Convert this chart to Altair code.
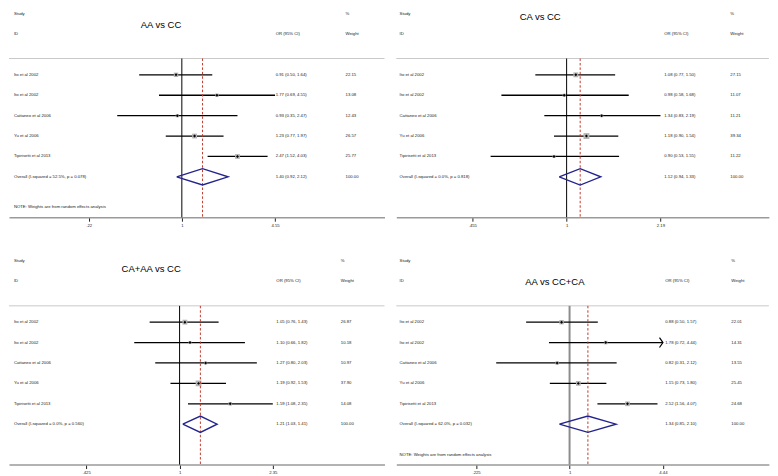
import math
import altair as alt
import pandas as pd

# ---------------- data ----------------
studies = ["Ito et al 2002", "Ito et al 2002", "Cattaneo et al 2006",
           "Yu et al 2006", "Tipirisetti et al 2013"]
titles = ["AA vs CC", "CA vs CC", "CA+AA vs CC", "AA vs CC+CA"]

or_est = [[0.91, 1.77, 0.93, 1.23, 2.47],
          [1.08, 0.98, 1.34, 1.18, 0.90],
          [1.05, 1.10, 1.27, 1.19, 1.59],
          [0.88, 1.78, 0.82, 1.15, 2.52]]
ci_lo = [[0.50, 0.69, 0.35, 0.77, 1.52],
         [0.77, 0.58, 0.83, 0.90, 0.53],
         [0.76, 0.66, 0.80, 0.92, 1.08],
         [0.50, 0.72, 0.31, 0.73, 1.56]]
ci_hi = [[1.64, 4.55, 2.47, 1.97, 4.03],
         [1.50, 1.68, 2.19, 1.54, 1.55],
         [1.43, 1.82, 2.03, 1.53, 2.35],
         [1.57, 4.44, 2.12, 1.80, 4.07]]
weights = [[22.15, 13.08, 12.43, 26.57, 25.77],
           [27.15, 11.07, 11.21, 39.34, 11.22],
           [26.87, 10.18, 10.97, 37.90, 14.08],
           [22.01, 14.31, 13.55, 25.45, 24.68]]

overall_est = [1.40, 1.12, 1.21, 1.34]
overall_lo = [0.92, 0.94, 1.03, 0.85]
overall_hi = [2.12, 1.33, 1.41, 2.10]
heterogeneity = ["I-squared = 52.5%, p = 0.078",
                 "I-squared = 0.0%, p = 0.818",
                 "I-squared = 0.0%, p = 0.560",
                 "I-squared = 62.0%, p = 0.032"]

tick_values = [[0.22, 1, 4.55], [0.455, 1, 2.19], [0.425, 1, 2.35], [0.225, 1, 4.44]]
tick_labels = [[".22", "1", "4.55"], [".455", "1", "2.19"],
               [".425", "1", "2.35"], [".225", "1", "4.44"]]
show_note = [True, False, False, True]
arrow_rows = [[], [], [], [2]]

# ---------------- layout (reference pixels) ----------------
SX, SY = 0.992, 0.987
panel_w = [383, 380, 383, 380]
one_px = [176.3, 173.7, 174.0, 176.7]
px_per_ln = [62.75, 122.1, 111.3, 63.9]
title_x = [155, 146.7, 145, 161.7]
title_row = [-1.42, -1.82, -1.59, -0.96]
name_x = [5, 3.3, 5, 3.3]
or_x = [272, 273.3, 272.7, 274.3]
wt_x = [343.3, 340.7, 338.5, 341.7]
null_color = ["#000000", "#000000", "#000000", "#8c8c8c"]
null_width = [1, 1, 1, 2]

ROW0, ROWSTEP, AXIS_Y = 65.7, 20.92, 211.7
Y_TOP = 1 + (0 - ROW0) / ROWSTEP
Y_BOT = 1 + (AXIS_Y - ROW0) / ROWSTEP
H = AXIS_Y * SY

FONT = "Liberation Sans"
FS = 4.3
TXT = "#222222"


def panel(i):
    W = panel_w[i] * SX
    d0 = math.exp(-one_px[i] / px_per_ln[i])
    d1 = math.exp((panel_w[i] - one_px[i]) / px_per_ln[i])
    tv, tl = tick_values[i], tick_labels[i]
    expr = (f"datum.value < {(tv[0] + 1) / 2} ? '{tl[0]}' : "
            f"(datum.value < {(tv[2] + 1) / 2} ? '{tl[1]}' : '{tl[2]}')")
    xsc = alt.Scale(type="log", domain=[d0, d1], nice=False, zero=False)
    xax = alt.Axis(values=tv, labelExpr=expr, title=None, grid=False,
                   domainColor="#9a9a9a", domainWidth=1.5, tickColor="#222222",
                   tickSize=4, tickWidth=1, labelFontSize=FS, labelFont=FONT,
                   labelColor=TXT, labelPadding=2, labelFlush=False,
                   labelOverlap=False)
    ysc = alt.Scale(domain=[Y_TOP, Y_BOT], reverse=True, nice=False, zero=False)

    def X(f):
        return alt.X(f, type="quantitative", scale=xsc, axis=xax)

    def Y(f):
        return alt.Y(f, type="quantitative", scale=ysc, axis=None)

    sdf = pd.DataFrame({
        "row": list(range(1, 6)),
        "name": studies,
        "est": or_est[i], "lo": ci_lo[i], "hi": ci_hi[i], "w": weights[i],
        "ortxt": [f"{e:.2f} ({l:.2f}, {h:.2f})" for e, l, h in zip(or_est[i], ci_lo[i], ci_hi[i])],
        "wtxt": [f"{w:.2f}" for w in weights[i]],
        "arrow": [r in arrow_rows[i] for r in range(1, 6)],
    })
    odf = pd.DataFrame({
        "row": [6], "name": [f"Overall  ({heterogeneity[i]})"],
        "ortxt": [f"{overall_est[i]:.2f} ({overall_lo[i]:.2f}, {overall_hi[i]:.2f})"],
        "wtxt": ["100.00"],
    })
    ddf = pd.DataFrame({
        "x": [overall_lo[i], overall_est[i], overall_hi[i], overall_est[i], overall_lo[i]],
        "row": [6, 5.6, 6, 6.4, 6], "ord": [0, 1, 2, 3, 4],
    })
    sep = pd.DataFrame({"x": [d0], "x2": [d1], "row": [0.2]})
    vline = pd.DataFrame({"x": [1.0, overall_est[i]], "row": [0.2, 0.2],
                          "row2": [Y_BOT, Y_BOT], "kind": ["null", "overall"]})
    hdr = pd.DataFrame({"row": [-2, -1]})

    layers = []
    layers.append(alt.Chart(sep).mark_rule(color="#c8c8c8", strokeWidth=1).encode(
        x=X("x"), x2="x2", y=Y("row")))
    layers.append(alt.Chart(vline).transform_filter("datum.kind == 'null'").mark_rule(
        color=null_color[i], strokeWidth=null_width[i]).encode(x=X("x"), y=Y("row"), y2="row2"))
    layers.append(alt.Chart(sdf).mark_rule(color="black", strokeWidth=1.3).encode(
        x=X("lo"), x2="hi", y=Y("row")))
    layers.append(alt.Chart(sdf).mark_square(color="#b4b4b4", opacity=1).encode(
        x=X("est"), y=Y("row"),
        size=alt.Size("w:Q", scale=alt.Scale(domain=[0, 40], range=[0, 36]), legend=None)))
    layers.append(alt.Chart(sdf).mark_point(shape="diamond", filled=True, color="black",
                                           size=9, opacity=1).encode(x=X("est"), y=Y("row")))
    layers.append(alt.Chart(sdf).transform_filter("datum.arrow").mark_point(
        shape="M-0.7,-1L0,0L-0.7,1", filled=False, color="black", strokeWidth=1.2,
        size=100, opacity=1).encode(x=X("hi"), y=Y("row")))
    layers.append(alt.Chart(vline).transform_filter("datum.kind == 'overall'").mark_rule(
        color="#c0392b", strokeWidth=1, strokeDash=[2.5, 2]).encode(
        x=X("x"), y=Y("row"), y2="row2"))
    layers.append(alt.Chart(ddf).mark_line(color="#23238e", strokeWidth=1.4).encode(
        x=X("x"), y=Y("row"), order="ord:Q"))

    def txt(df, field, xpx, align="left", size=FS):
        return alt.Chart(df).mark_text(align=align, baseline="middle", font=FONT,
                                       fontSize=size, color=TXT).encode(
            x=alt.value(xpx * SX), y=Y("row"), text=field)

    for df in (sdf, odf):
        layers.append(txt(df, "name:N", name_x[i]))
        layers.append(txt(df, "ortxt:N", or_x[i]))
        layers.append(txt(df, "wtxt:N", wt_x[i]))

    hdr_a = hdr.assign(t=["Study", "ID"])
    hdr_b = hdr.assign(t=["%", "Weight"])
    hdr_c = pd.DataFrame({"row": [-1], "t": ["OR (95% CI)"]})
    layers.append(txt(hdr_a, "t:N", name_x[i]))
    layers.append(txt(hdr_b, "t:N", wt_x[i]))
    layers.append(txt(hdr_c, "t:N", or_x[i]))

    tdf = pd.DataFrame({"row": [title_row[i]], "t": [titles[i]]})
    layers.append(txt(tdf, "t:N", title_x[i], align="center", size=9.6).encode(
        color=alt.value("#000000")))

    if show_note[i]:
        ndf = pd.DataFrame({"row": [7.5], "t": ["NOTE: Weights are from random effects analysis"]})
        layers.append(txt(ndf, "t:N", name_x[i]))

    return alt.layer(*layers).properties(width=W, height=H)


panels = [panel(i) for i in range(4)]
col_spacing = 395 * SX - 383 * SX
row_spacing = 253.5 * SY - H

chart = alt.concat(*panels, columns=2,
                   spacing={"row": row_spacing, "column": col_spacing},
                   bounds="flush").properties(
    padding=0, background="white"
).configure_view(stroke=None)

chart.save("out.html", embed_options={"renderer": "svg", "actions": False})
